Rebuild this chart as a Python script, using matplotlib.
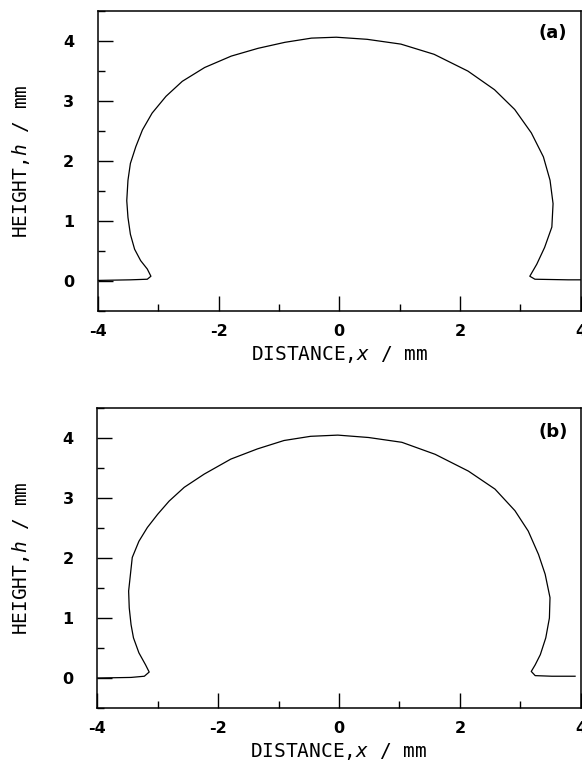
import matplotlib
matplotlib.use("Agg")
import matplotlib.pyplot as plt
from matplotlib.ticker import MultipleLocator

plt.rcParams["mathtext.fontset"] = "custom"
plt.rcParams["mathtext.it"] = "DejaVu Sans Mono:italic"
plt.rcParams["mathtext.rm"] = "DejaVu Sans Mono"
plt.rcParams["axes.unicode_minus"] = False

# drop profile, panel (a)
x_a = [-4.01, -3.46, -3.18, -3.12, -3.18, -3.29, -3.39, -3.46, -3.50, -3.52,
       -3.50, -3.46, -3.37, -3.26, -3.10, -2.87, -2.60, -2.23, -1.79, -1.345,
       -0.90, -0.46, -0.05, 0.46, 1.02, 1.57, 2.13, 2.57, 2.905, 3.18,
       3.38, 3.49, 3.54, 3.52, 3.40, 3.27, 3.155, 3.24, 3.79, 4.02]
h_a = [0.01, 0.02, 0.03, 0.08, 0.20, 0.34, 0.53, 0.78, 1.06, 1.34,
       1.68, 1.96, 2.24, 2.52, 2.80, 3.08, 3.33, 3.56, 3.75, 3.88,
       3.98, 4.05, 4.065, 4.03, 3.95, 3.78, 3.50, 3.19, 2.86, 2.47,
       2.07, 1.68, 1.29, 0.90, 0.56, 0.28, 0.08, 0.03, 0.02, 0.02]

# drop profile, panel (b)
x_b = [-4.0, -3.44, -3.22, -3.14, -3.20, -3.31, -3.40, -3.44, -3.47, -3.48,
       -3.45, -3.42, -3.31, -3.17, -3.00, -2.81, -2.56, -2.23, -1.79, -1.35,
       -0.91, -0.47, -0.02, 0.49, 1.04, 1.59, 2.14, 2.58, 2.91, 3.13,
       3.30, 3.41, 3.49, 3.48, 3.42, 3.33, 3.245, 3.18, 3.245, 3.52, 3.905]
h_b = [0.0, 0.01, 0.03, 0.10, 0.22, 0.42, 0.67, 0.89, 1.17, 1.45,
       1.73, 2.01, 2.28, 2.51, 2.73, 2.95, 3.18, 3.40, 3.65, 3.82,
       3.96, 4.03, 4.05, 4.01, 3.93, 3.73, 3.45, 3.15, 2.79, 2.45,
       2.06, 1.73, 1.34, 1.00, 0.67, 0.39, 0.22, 0.11, 0.04, 0.03, 0.03]

panels = [("(a)", x_a, h_a, 0.927), ("(b)", x_b, h_b, 0.921)]
xticks = [-4, -2, 0, 2, 4]
yticks = [0, 1, 2, 3, 4]

label_font = dict(family="DejaVu Sans Mono", fontsize=14)

fig = plt.figure(figsize=(5.82, 7.67), dpi=100)
boxes = [[0.168, 0.5945, 0.830, 0.391], [0.167, 0.0769, 0.831, 0.391]]

for box, (tag, xs, hs, ty) in zip(boxes, panels):
    ax = fig.add_axes(box)
    ax.plot(xs, hs, color="black", lw=0.9)
    ax.set_xlim(-4, 4)
    ax.set_ylim(-0.5, 4.5)
    ax.set_xticks(xticks)
    ax.set_yticks(yticks)
    ax.xaxis.set_minor_locator(MultipleLocator(1))
    ax.yaxis.set_minor_locator(MultipleLocator(0.5))
    ax.tick_params(which="both", direction="in", top=False, right=False, width=1.0)
    ax.tick_params(which="major", length=11)
    ax.tick_params(which="minor", length=5)
    ax.tick_params(axis="y", which="major", pad=17)
    ax.tick_params(axis="x", which="major", pad=9)
    for lab in ax.get_xticklabels() + ax.get_yticklabels():
        lab.set_fontsize(11.5)
        lab.set_fontweight("bold")
    for sp in ax.spines.values():
        sp.set_linewidth(1.1)
    ax.set_xlabel("DISTANCE,$x$ / mm", labelpad=4, **label_font)
    ax.set_ylabel("HEIGHT,$h$ / mm", labelpad=22, **label_font)
    ax.text(0.942, ty, tag, transform=ax.transAxes, ha="center", va="center",
            fontsize=13, fontweight="bold")

fig.savefig("out.png", dpi=100)
